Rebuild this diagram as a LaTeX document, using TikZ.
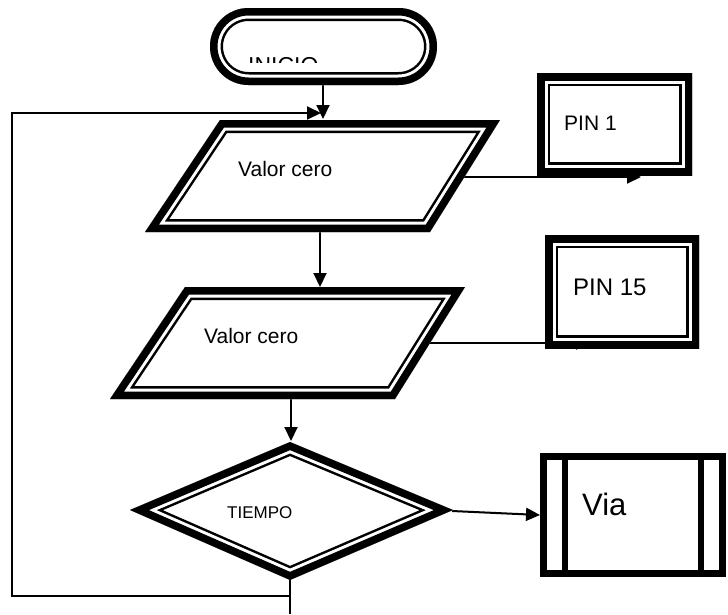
\documentclass[tikz,border=0pt]{standalone}
\usepackage{fontspec}
\setmainfont{Liberation Sans}
\usetikzlibrary{arrows.meta}

\newcommand\setpx[1]{\fontsize{#1}{#1}\selectfont}

% shape with a heavy outer rule and a thin inner rule, drawn inside its outline
\newcommand\framedshape[1]{%
  \begin{scope}
    \clip #1;
    \fill[white] #1;
    \draw[line width=26pt, line join=miter] #1;
    \draw[line width=21pt, white, line join=miter] #1;
    \draw[line width=15pt, line join=miter] #1;
  \end{scope}}

\tikzset{
  conn/.style={line width=2pt, -{Triangle[length=14pt,width=13pt]}},
  plainline/.style={line width=2pt},
  lbl/.style={inner sep=0pt, anchor=base west},
}

\begin{document}
\begin{tikzpicture}[x=1pt,y=-1pt]
\useasboundingbox (0,0) rectangle (728,614);

% anchor points of the connectors
\coordinate (iniS)   at (323,84);
\coordinate (p1N)    at (323,119);
\coordinate (p1E)    at (462,177);
\coordinate (pinA)   at (641,177);
\coordinate (p1S)    at (320,230);
\coordinate (p2N)    at (320,287);
\coordinate (p2E)    at (426,343);
\coordinate (pinB)   at (590,343);
\coordinate (p2S)    at (291,397);
\coordinate (dN)     at (291,441);
\coordinate (dE)     at (452,511);
\coordinate (viaW)   at (540,515);
\coordinate (dS)     at (290,578);
\coordinate (exit)   at (290,614);
\coordinate (junc)   at (290,596);
\coordinate (loopA)  at (12,596);
\coordinate (loopB)  at (12,113);
\coordinate (loopC)  at (321,113);

% connectors
\draw[conn] (iniS) -- (p1N);
\draw[plainline] (junc) -- (loopA) -- (loopB) -- ++(1,0);
\draw[conn] (loopB) -- (loopC);
\draw[conn] (p1E) -- (pinA);
\draw[conn] (p1S) -- (p2N);
\draw[conn] (p2E) -- (pinB);
\draw[conn] (p2S) -- (dN);
\draw[conn] (dE) -- (viaW);
\draw[plainline] (dS) -- (exit);

% start terminator
\framedshape{[rounded corners=38.5pt] (210,8) rectangle (437,85)}
\begin{scope}
  \clip (200,0) rectangle (450,62);
  \node[lbl, font=\setpx{23}] (inicio) at (248,73.5) {INICIO};
\end{scope}

% data blocks
\framedshape{(220,120) -- (500,120) -- (430,232) -- (145,232) -- cycle}
\node[lbl, font=\setpx{21}] (val1) at (238,176.5) {Valor cero};

\framedshape{(185,287) -- (465,287) -- (395,399) -- (110,399) -- cycle}
\node[lbl, font=\setpx{21}] (val2) at (204,343) {Valor cero};

% output boxes
\framedshape{(537,73) rectangle (692,175)}
\node[lbl, font=\setpx{21}] (pin1) at (564,130) {PIN 1};

\framedshape{(545,235) rectangle (699,348)}
\node[lbl, font=\setpx{24}] (pin15) at (573,295) {PIN 15};

% decision
\framedshape{(290,442) -- (453,510) -- (290,580) -- (130,510) -- cycle}
\node[lbl, font=\setpx{17}] (tiempo) at (227,518) {TIEMPO};

% predefined process
\fill[white] (540,453) rectangle (726,577);
\draw[line width=7pt] (543.5,456.5) rectangle (722.5,573.5);
\draw[line width=6pt] (565,456.5) -- (565,573.5);
\draw[line width=6pt] (700.5,456.5) -- (700.5,573.5);
\node[lbl, font=\setpx{31}] (via) at (582,515) {Via};
\end{tikzpicture}
\end{document}
